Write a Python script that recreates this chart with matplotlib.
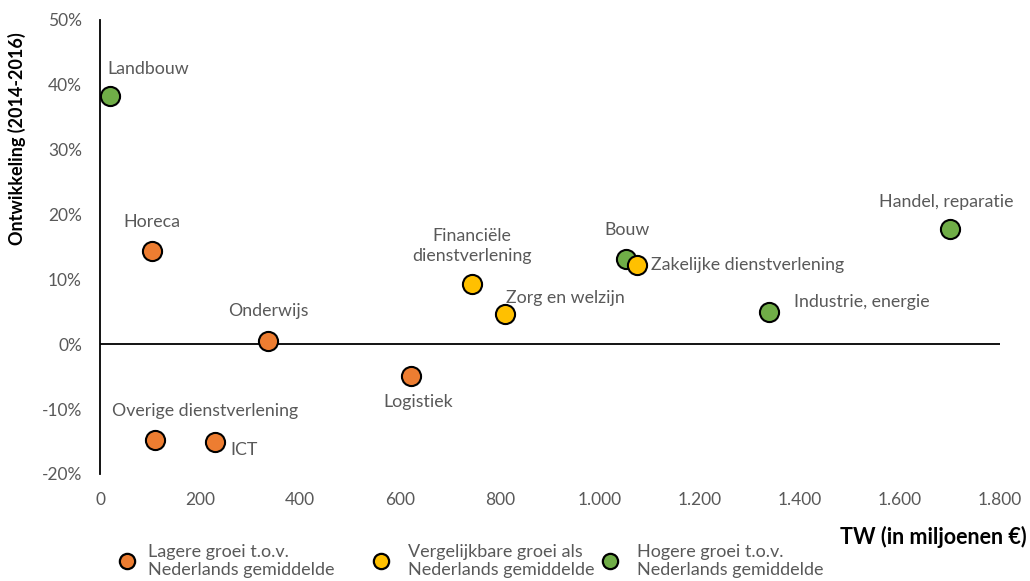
import matplotlib
matplotlib.use("Agg")
import matplotlib.pyplot as plt
from matplotlib.lines import Line2D
from matplotlib.ticker import FuncFormatter

plt.rcParams['font.family'] = ['Lato', 'DejaVu Sans']

# Sector data: toegevoegde waarde (mln €) and growth 2014-2016 (%)
sectors = ["Landbouw", "Horeca", "Onderwijs", "Overige dienstverlening", "ICT",
           "Logistiek", "Financiële\ndienstverlening", "Zorg en welzijn", "Bouw",
           "Zakelijke dienstverlening", "Industrie, energie", "Handel, reparatie"]
tw = [20, 104, 336, 110, 230, 622, 744, 810, 1052, 1074, 1338, 1700]
growth = [38.3, 14.4, 0.5, -14.8, -15.1, -4.9, 9.3, 4.7, 13.1, 12.2, 5.0, 17.8]
group = ["hoog", "laag", "laag", "laag", "laag", "laag", "gelijk", "gelijk",
         "hoog", "gelijk", "hoog", "hoog"]

group_order = ["laag", "gelijk", "hoog"]
group_labels = ["Lagere groei t.o.v.\nNederlands gemiddelde",
                "Vergelijkbare groei als\nNederlands gemiddelde",
                "Hogere groei t.o.v.\nNederlands gemiddelde"]
group_colors = {"laag": "#ED7D31", "gelijk": "#FFC000", "hoog": "#70AD47"}

# label offsets in pixels (dx, dy, horizontal alignment)
label_offsets = {
    "Landbouw": (-3, 27, "left"),
    "Horeca": (-29, 29, "left"),
    "Onderwijs": (-40, 30, "left"),
    "Overige dienstverlening": (-43, 29, "left"),
    "ICT": (15, -8, "left"),
    "Logistiek": (-28, -26, "left"),
    "Financiële\ndienstverlening": (0, 38, "center"),
    "Zorg en welzijn": (1, 16, "left"),
    "Bouw": (-22, 29, "left"),
    "Zakelijke dienstverlening": (14, 0, "left"),
    "Industrie, energie": (25, 10, "left"),
    "Handel, reparatie": (-71, 27, "left"),
}

grey = "#595959"
fig = plt.figure(figsize=(10.3, 5.81), dpi=100)
ax = fig.add_axes([0.0971, 0.1842, 0.8738, 0.7814])

for name, x, y, g in zip(sectors, tw, growth, group):
    ax.scatter(x, y, s=190, color=group_colors[g], edgecolor="black",
               linewidth=1.5, zorder=3)
    dx, dy, ha = label_offsets[name]
    ax.annotate(name, (x, y), xytext=(dx, dy), textcoords="offset pixels",
                ha=ha, va="center", multialignment="center",
                fontsize=12.8, color=grey, linespacing=1.3, zorder=4)

ax.set_xlim(0, 1800)
ax.set_ylim(-20, 50)
ax.set_xticks(range(0, 1801, 200))
ax.set_yticks(range(-20, 51, 10))
ax.xaxis.set_major_formatter(FuncFormatter(lambda v, p: f"{int(v):,}".replace(",", ".")))
ax.yaxis.set_major_formatter(FuncFormatter(lambda v, p: f"{int(v)}%"))
ax.tick_params(axis="both", length=0, labelsize=12.5, labelcolor=grey)
ax.tick_params(axis="y", pad=13)
ax.tick_params(axis="x", pad=13)

for side in ["top", "right", "bottom"]:
    ax.spines[side].set_visible(False)
ax.spines["left"].set_color("black")
ax.spines["left"].set_linewidth(1.3)
ax.axhline(0, color="black", linewidth=1.3, zorder=1)

fig.text(0.016, 0.762, "Ontwikkeling (2014-2016)", rotation=90, ha="center",
         va="center", fontsize=13, fontweight="bold", color="black")
fig.text(0.997, 0.076, "TW (in miljoenen €)", ha="right", va="center",
         fontsize=15.5, fontweight="bold", color="black")

# legend drawn manually in figure coordinates
legend_marker_x = [127, 381, 610]
legend_text_x = [148, 408, 637]
W, H = 1030, 581
for g, lbl, mx, tx in zip(group_order, group_labels, legend_marker_x, legend_text_x):
    fig.add_artist(Line2D([mx / W], [1 - 561 / H], transform=fig.transFigure,
                          marker="o", linestyle="none", markersize=11,
                          markerfacecolor=group_colors[g], markeredgecolor="black",
                          markeredgewidth=1.6))
    fig.text(tx / W, 1 - 561 / H, lbl, ha="left", va="center", fontsize=13,
             color=grey, linespacing=1.12)

fig.savefig("out.png", dpi=100)
